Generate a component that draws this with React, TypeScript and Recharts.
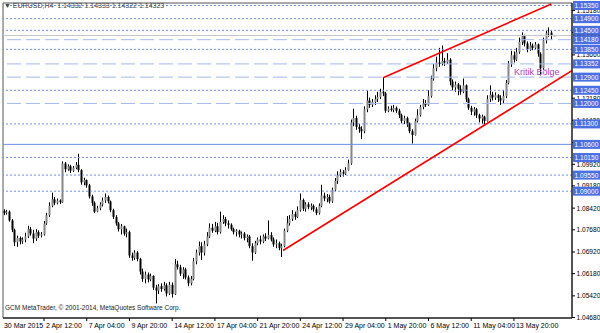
import { ComposedChart, Bar, XAxis, YAxis, ReferenceLine, ReferenceArea } from "recharts";

// EURUSD H4, one entry per bar; open = previous close
const firstOpen = 1.0832;
const closes = [
  1.0826, 1.083, 1.08, 1.0768, 1.0725, 1.074, 1.0728, 1.0735, 1.0745, 1.077,
  1.0755, 1.0738, 1.076, 1.0748, 1.0752, 1.079, 1.0818, 1.085, 1.0872, 1.086,
  1.0868, 1.0862, 1.0995, 1.0975, 1.0985, 1.097, 1.098, 1.099, 1.0972, 1.093,
  1.0938, 1.092, 1.0882, 1.086, 1.083, 1.0842, 1.0855, 1.0868, 1.088, 1.0865,
  1.0835, 1.0812, 1.079, 1.077, 1.078, 1.0755, 1.076, 1.068, 1.0672, 1.069,
  1.0668, 1.0625, 1.06, 1.0615, 1.0598, 1.061, 1.057, 1.056, 1.0575, 1.0565,
  1.0578, 1.055, 1.058, 1.0548, 1.065, 1.064, 1.0618, 1.0632, 1.0605, 1.0585,
  1.06, 1.066, 1.069, 1.0712, 1.069, 1.0718, 1.0745, 1.0775, 1.0765, 1.078,
  1.076, 1.0795, 1.0805, 1.079, 1.0785, 1.077, 1.076, 1.0765, 1.0752, 1.0755,
  1.074, 1.0745, 1.0712, 1.069, 1.0722, 1.0735, 1.0728, 1.0745, 1.0738, 1.075,
  1.0735, 1.0718, 1.0722, 1.0705, 1.0712, 1.0765, 1.079, 1.0805, 1.0822, 1.0812,
  1.0835, 1.087, 1.084, 1.0855, 1.0845, 1.085, 1.0838, 1.0825, 1.085, 1.0885,
  1.0875, 1.088, 1.0865, 1.0905, 1.0935, 1.0955, 1.0965, 1.096, 1.0972, 1.0995,
  1.1135, 1.115, 1.112, 1.1112, 1.1105, 1.118, 1.121, 1.1195, 1.1205, 1.1215,
  1.1222, 1.124, 1.1235, 1.1175, 1.1182, 1.1178, 1.1185, 1.1175, 1.116, 1.114,
  1.115, 1.113, 1.1105, 1.1092, 1.114, 1.116, 1.1188, 1.12, 1.1195, 1.1225,
  1.1285, 1.132, 1.134, 1.1335, 1.1345, 1.134, 1.135, 1.1275, 1.1255, 1.1265,
  1.125, 1.124, 1.1262, 1.1215, 1.1185, 1.1172, 1.118, 1.116, 1.1148, 1.1155,
  1.114, 1.1215, 1.123, 1.122, 1.1228, 1.1218, 1.121, 1.1225, 1.127, 1.1335,
  1.1365, 1.135, 1.1375, 1.141, 1.143, 1.1405, 1.1385, 1.1398, 1.139, 1.1402,
  1.137, 1.132, 1.1415, 1.144, 1.1442, 1.14332, 1.14323,
];
const highs = [
  1.0838, 1.0836, 1.0834, 1.0805, 1.0772, 1.0748, 1.0745, 1.0742, 1.0758, 1.0782,
  1.0778, 1.0768, 1.077, 1.0766, 1.076, 1.0798, 1.0826, 1.0862, 1.0895, 1.088,
  1.0875, 1.0872, 1.1002, 1.1, 1.0992, 1.099, 1.0986, 1.1, 1.1028, 1.0975,
  1.0946, 1.094, 1.0925, 1.0888, 1.0865, 1.085, 1.0862, 1.0878, 1.0892, 1.0885,
  1.0868, 1.084, 1.0818, 1.0795, 1.0788, 1.0782, 1.0772, 1.0765, 1.069, 1.0698,
  1.0695, 1.0672, 1.0635, 1.0625, 1.0622, 1.0618, 1.0612, 1.058, 1.0582, 1.0585,
  1.059, 1.0585, 1.059, 1.0588, 1.0668, 1.0662, 1.0648, 1.064, 1.0638, 1.0612,
  1.061, 1.0672, 1.07, 1.0728, 1.0725, 1.073, 1.076, 1.079, 1.0788, 1.0795,
  1.0792, 1.083, 1.0818, 1.0812, 1.08, 1.079, 1.0775, 1.077, 1.0768, 1.0762,
  1.076, 1.0752, 1.075, 1.0722, 1.073, 1.0742, 1.0748, 1.0752, 1.0756, 1.08,
  1.076, 1.0742, 1.0735, 1.0728, 1.072, 1.0772, 1.0815, 1.0818, 1.0835, 1.083,
  1.0848, 1.0892, 1.0875, 1.0862, 1.0862, 1.0858, 1.0855, 1.0845, 1.0858, 1.0922,
  1.0895, 1.089, 1.0888, 1.0912, 1.0945, 1.0968, 1.0975, 1.0972, 1.0982, 1.1008,
  1.1145, 1.1182, 1.1158, 1.113, 1.1122, 1.119, 1.1244, 1.122, 1.1215, 1.1228,
  1.124, 1.125, 1.1288, 1.124, 1.119, 1.1192, 1.1195, 1.119, 1.1182, 1.1165,
  1.1158, 1.1155, 1.1135, 1.1112, 1.1148, 1.118, 1.1195, 1.1215, 1.1212, 1.1245,
  1.1295, 1.1335, 1.136, 1.139, 1.1398, 1.1355, 1.1372, 1.1355, 1.1282, 1.1275,
  1.127, 1.1262, 1.1285, 1.1265, 1.122, 1.1192, 1.1188, 1.1185, 1.1165, 1.1162,
  1.1158, 1.1228, 1.1262, 1.124, 1.1238, 1.1232, 1.1228, 1.1245, 1.128, 1.1345,
  1.138, 1.1378, 1.139, 1.1425, 1.1443, 1.1435, 1.1412, 1.141, 1.1405, 1.141,
  1.1405, 1.1375, 1.1425, 1.1448, 1.146, 1.1448, 1.14333,
];
const lows = [
  1.0818, 1.082, 1.0796, 1.076, 1.0712, 1.071, 1.0718, 1.072, 1.0725, 1.074,
  1.0748, 1.0722, 1.073, 1.074, 1.0742, 1.0748, 1.0785, 1.0812, 1.0845, 1.0852,
  1.0855, 1.0856, 1.086, 1.0965, 1.097, 1.0962, 1.0966, 1.0975, 1.0965, 1.0922,
  1.092, 1.0912, 1.0875, 1.085, 1.0825, 1.0828, 1.0835, 1.0848, 1.086, 1.0858,
  1.0828, 1.0805, 1.0782, 1.0762, 1.0752, 1.0748, 1.0742, 1.0672, 1.0662, 1.0665,
  1.066, 1.0615, 1.059, 1.0585, 1.0588, 1.0592, 1.0562, 1.0516, 1.0548, 1.0556,
  1.056, 1.054, 1.0545, 1.0536, 1.0545, 1.0632, 1.061, 1.06, 1.0598, 1.0575,
  1.0578, 1.0595, 1.065, 1.068, 1.0665, 1.068, 1.0712, 1.074, 1.0758, 1.076,
  1.0752, 1.0755, 1.0788, 1.078, 1.0772, 1.0765, 1.0752, 1.0745, 1.0742, 1.0738,
  1.0732, 1.0725, 1.0705, 1.0662, 1.0685, 1.0715, 1.0718, 1.0722, 1.073, 1.0735,
  1.0728, 1.071, 1.0705, 1.0698, 1.0675, 1.0708, 1.076, 1.0782, 1.0798, 1.0802,
  1.0808, 1.083, 1.0832, 1.083, 1.0838, 1.0835, 1.083, 1.0818, 1.082, 1.0845,
  1.0866, 1.0862, 1.0858, 1.086, 1.09, 1.0925, 1.0948, 1.095, 1.0955, 1.097,
  1.099, 1.1122, 1.111, 1.11, 1.1078, 1.1098, 1.117, 1.1185, 1.1188, 1.1195,
  1.1205, 1.1215, 1.1225, 1.1168, 1.117, 1.1172, 1.117, 1.1168, 1.115, 1.1132,
  1.113, 1.112, 1.1098, 1.1063, 1.109, 1.1135, 1.1155, 1.118, 1.1188, 1.1192,
  1.122, 1.1278, 1.131, 1.1325, 1.133, 1.1328, 1.1335, 1.1262, 1.1245, 1.124,
  1.1228, 1.123, 1.1235, 1.1205, 1.1178, 1.116, 1.1158, 1.115, 1.1135, 1.113,
  1.1128, 1.1138, 1.1205, 1.121, 1.1212, 1.1205, 1.1195, 1.12, 1.1218, 1.1265,
  1.1325, 1.134, 1.1345, 1.137, 1.14, 1.1395, 1.1375, 1.138, 1.1382, 1.1385,
  1.136, 1.1296, 1.1315, 1.1405, 1.1428, 1.142, 1.14322,
];

const timeTicks = [0, 15, 31, 47, 63, 79, 95, 111, 127, 143, 159, 175, 191];
const timeLabels = [
  "30 Mar 2015", "2 Apr 12:00", "7 Apr 04:00", "9 Apr 20:00", "14 Apr 12:00",
  "17 Apr 04:00", "21 Apr 20:00", "24 Apr 12:00", "29 Apr 04:00", "1 May 20:00",
  "6 May 12:00", "11 May 04:00", "13 May 20:00",
];

const priceTicks = [
  1.1518, 1.1442, 1.1366, 1.1218, 1.1142, 1.1066, 1.0992, 1.0918, 1.0842, 1.0768,
  1.0692, 1.0618, 1.0542, 1.0468,
];
const dottedLevels = [1.1535, 1.149, 1.145, 1.1385, 1.1245, 1.113, 1.1015, 1.0955, 1.09];
const dashedLevels = [1.1418, 1.13352, 1.129, 1.12];
const solidLevels = [1.106];
const bidPrice = 1.14323;

const lowerTrend = [
  { x: 104.5, y: 1.0697 },
  { x: 212.7, y: 1.1312 },
];
const upperTrend = [
  { x: 142, y: 1.1288 },
  { x: 205, y: 1.154 },
];

const xDomain = [-0.36, 212.75];
const yDomain = [1.04663, 1.15435];
const font = "'Liberation Sans', Arial, sans-serif";

const levels = [...dottedLevels, ...dashedLevels, ...solidLevels];
// plain ticks first, then the bid tag, then the level tags on top
const axisTicks = [...priceTicks, bidPrice, ...levels];

const data = closes.map((close, i) => {
  const open = i === 0 ? firstOpen : closes[i - 1];
  return { i, open, close, high: highs[i], low: lows[i], range: [lows[i], highs[i]] };
});

const Candle = (props: any) => {
  const { x, y, width, height, payload } = props;
  if (!payload) return null;
  const { open, close, high, low } = payload;
  const k = height / (high - low);
  const cx = Math.round(x + width / 2);
  const yO = y + (high - open) * k;
  const yC = y + (high - close) * k;
  const top = Math.min(yO, yC);
  const bh = Math.max(1, Math.abs(yC - yO));
  const up = close >= open;
  return (
    <g>
      <line x1={cx + 0.5} x2={cx + 0.5} y1={y} y2={y + height} stroke="#000" strokeWidth={1} />
      <rect x={cx - 0.5} y={top} width={2} height={bh} fill={up ? "#858585" : "#000"} />
    </g>
  );
};

const TimeTick = ({ x, y, payload, index }: any) => {
  const label = timeLabels[timeTicks.indexOf(payload.value)];
  return (
    <g>
      {index > 0 && <line x1={x} x2={x} y1={y} y2={y + 3} stroke="#000" />}
      <text x={index > 0 ? x + 2 : x} y={y + 10} fontSize={7} fill="#000" fontFamily={font}>
        {label}
      </text>
    </g>
  );
};

const PriceTick = ({ x, y, payload }: any) => {
  const v = payload.value;
  const isBid = v === bidPrice;
  if (isBid || levels.includes(v)) {
    return (
      <g>
        <rect x={x + 1} y={y - 4.5} width={27} height={9} fill={isBid ? "#000" : "#4a6fe3"} />
        <text x={x + 2.5} y={y + 2.5} fontSize={6.6} fill="#fff" fontFamily={font}>
          {v.toFixed(5)}
        </text>
      </g>
    );
  }
  return (
    <g>
      <line x1={x} x2={x + 3} y1={y} y2={y} stroke="#000" />
      <text x={x + 4.5} y={y + 2.5} fontSize={6.6} fill="#000" fontFamily={font}>
        {v.toFixed(5)}
      </text>
    </g>
  );
};

export default function App() {
  return (
    <div style={{ position: "absolute", left: 0, top: 0, width: 600, height: 333, background: "#fff" }}>
      <ComposedChart width={600} height={333} data={data} margin={{ top: 3, right: 0, bottom: 0, left: 3 }}>
        <XAxis
          dataKey="i"
          type="number"
          domain={xDomain}
          allowDataOverflow
          ticks={timeTicks}
          interval={0}
          tick={<TimeTick />}
          tickLine={false}
          tickSize={0}
          tickMargin={0}
          axisLine={{ stroke: "#000" }}
          height={15}
        />
        <YAxis
          orientation="right"
          type="number"
          domain={yDomain}
          allowDataOverflow
          ticks={axisTicks}
          interval={0}
          tick={<PriceTick />}
          tickLine={false}
          tickSize={0}
          tickMargin={0}
          axisLine={{ stroke: "#000" }}
          width={28}
        />
        <ReferenceArea
          x1={xDomain[0]}
          x2={xDomain[1]}
          y1={yDomain[0]}
          y2={yDomain[1]}
          fill="none"
          fillOpacity={0}
          stroke="#555"
          ifOverflow="visible"
        />
        <ReferenceLine y={bidPrice} stroke="#c8c8c8" />
        {solidLevels.map((v) => (
          <ReferenceLine key={"s" + v} y={v} stroke="#6f8fe6" />
        ))}
        {dashedLevels.map((v) => (
          <ReferenceLine key={"d" + v} y={v} stroke="#a4b8f0" strokeDasharray="14 5" />
        ))}
        {dottedLevels.map((v) => (
          <ReferenceLine key={"p" + v} y={v} stroke="#7090ea" strokeDasharray="2 2" />
        ))}
        <Bar dataKey="range" shape={Candle} barSize={2} isAnimationActive={false} />
        <ReferenceLine segment={lowerTrend} stroke="#ff0000" strokeWidth={1.6} ifOverflow="hidden" />
        <ReferenceLine segment={upperTrend} stroke="#ff0000" strokeWidth={1.6} ifOverflow="hidden" />
      </ComposedChart>
      <div style={{ position: "absolute", left: 4, top: 2, fontFamily: font, fontSize: 7, color: "#444", whiteSpace: "nowrap" }}>
        ▼ EURUSD,H4&nbsp; 1.14332 1.14333 1.14322 1.14323
      </div>
      <div style={{ position: "absolute", left: 514, top: 67, fontFamily: font, fontSize: 9, color: "#b83cc0", whiteSpace: "nowrap" }}>
        Kritik Bölge
      </div>
      <div style={{ position: "absolute", left: 5, top: 304, fontFamily: font, fontSize: 6.5, color: "#222", whiteSpace: "nowrap" }}>
        GCM MetaTrader, © 2001-2014, MetaQuotes Software Corp.
      </div>
    </div>
  );
}
